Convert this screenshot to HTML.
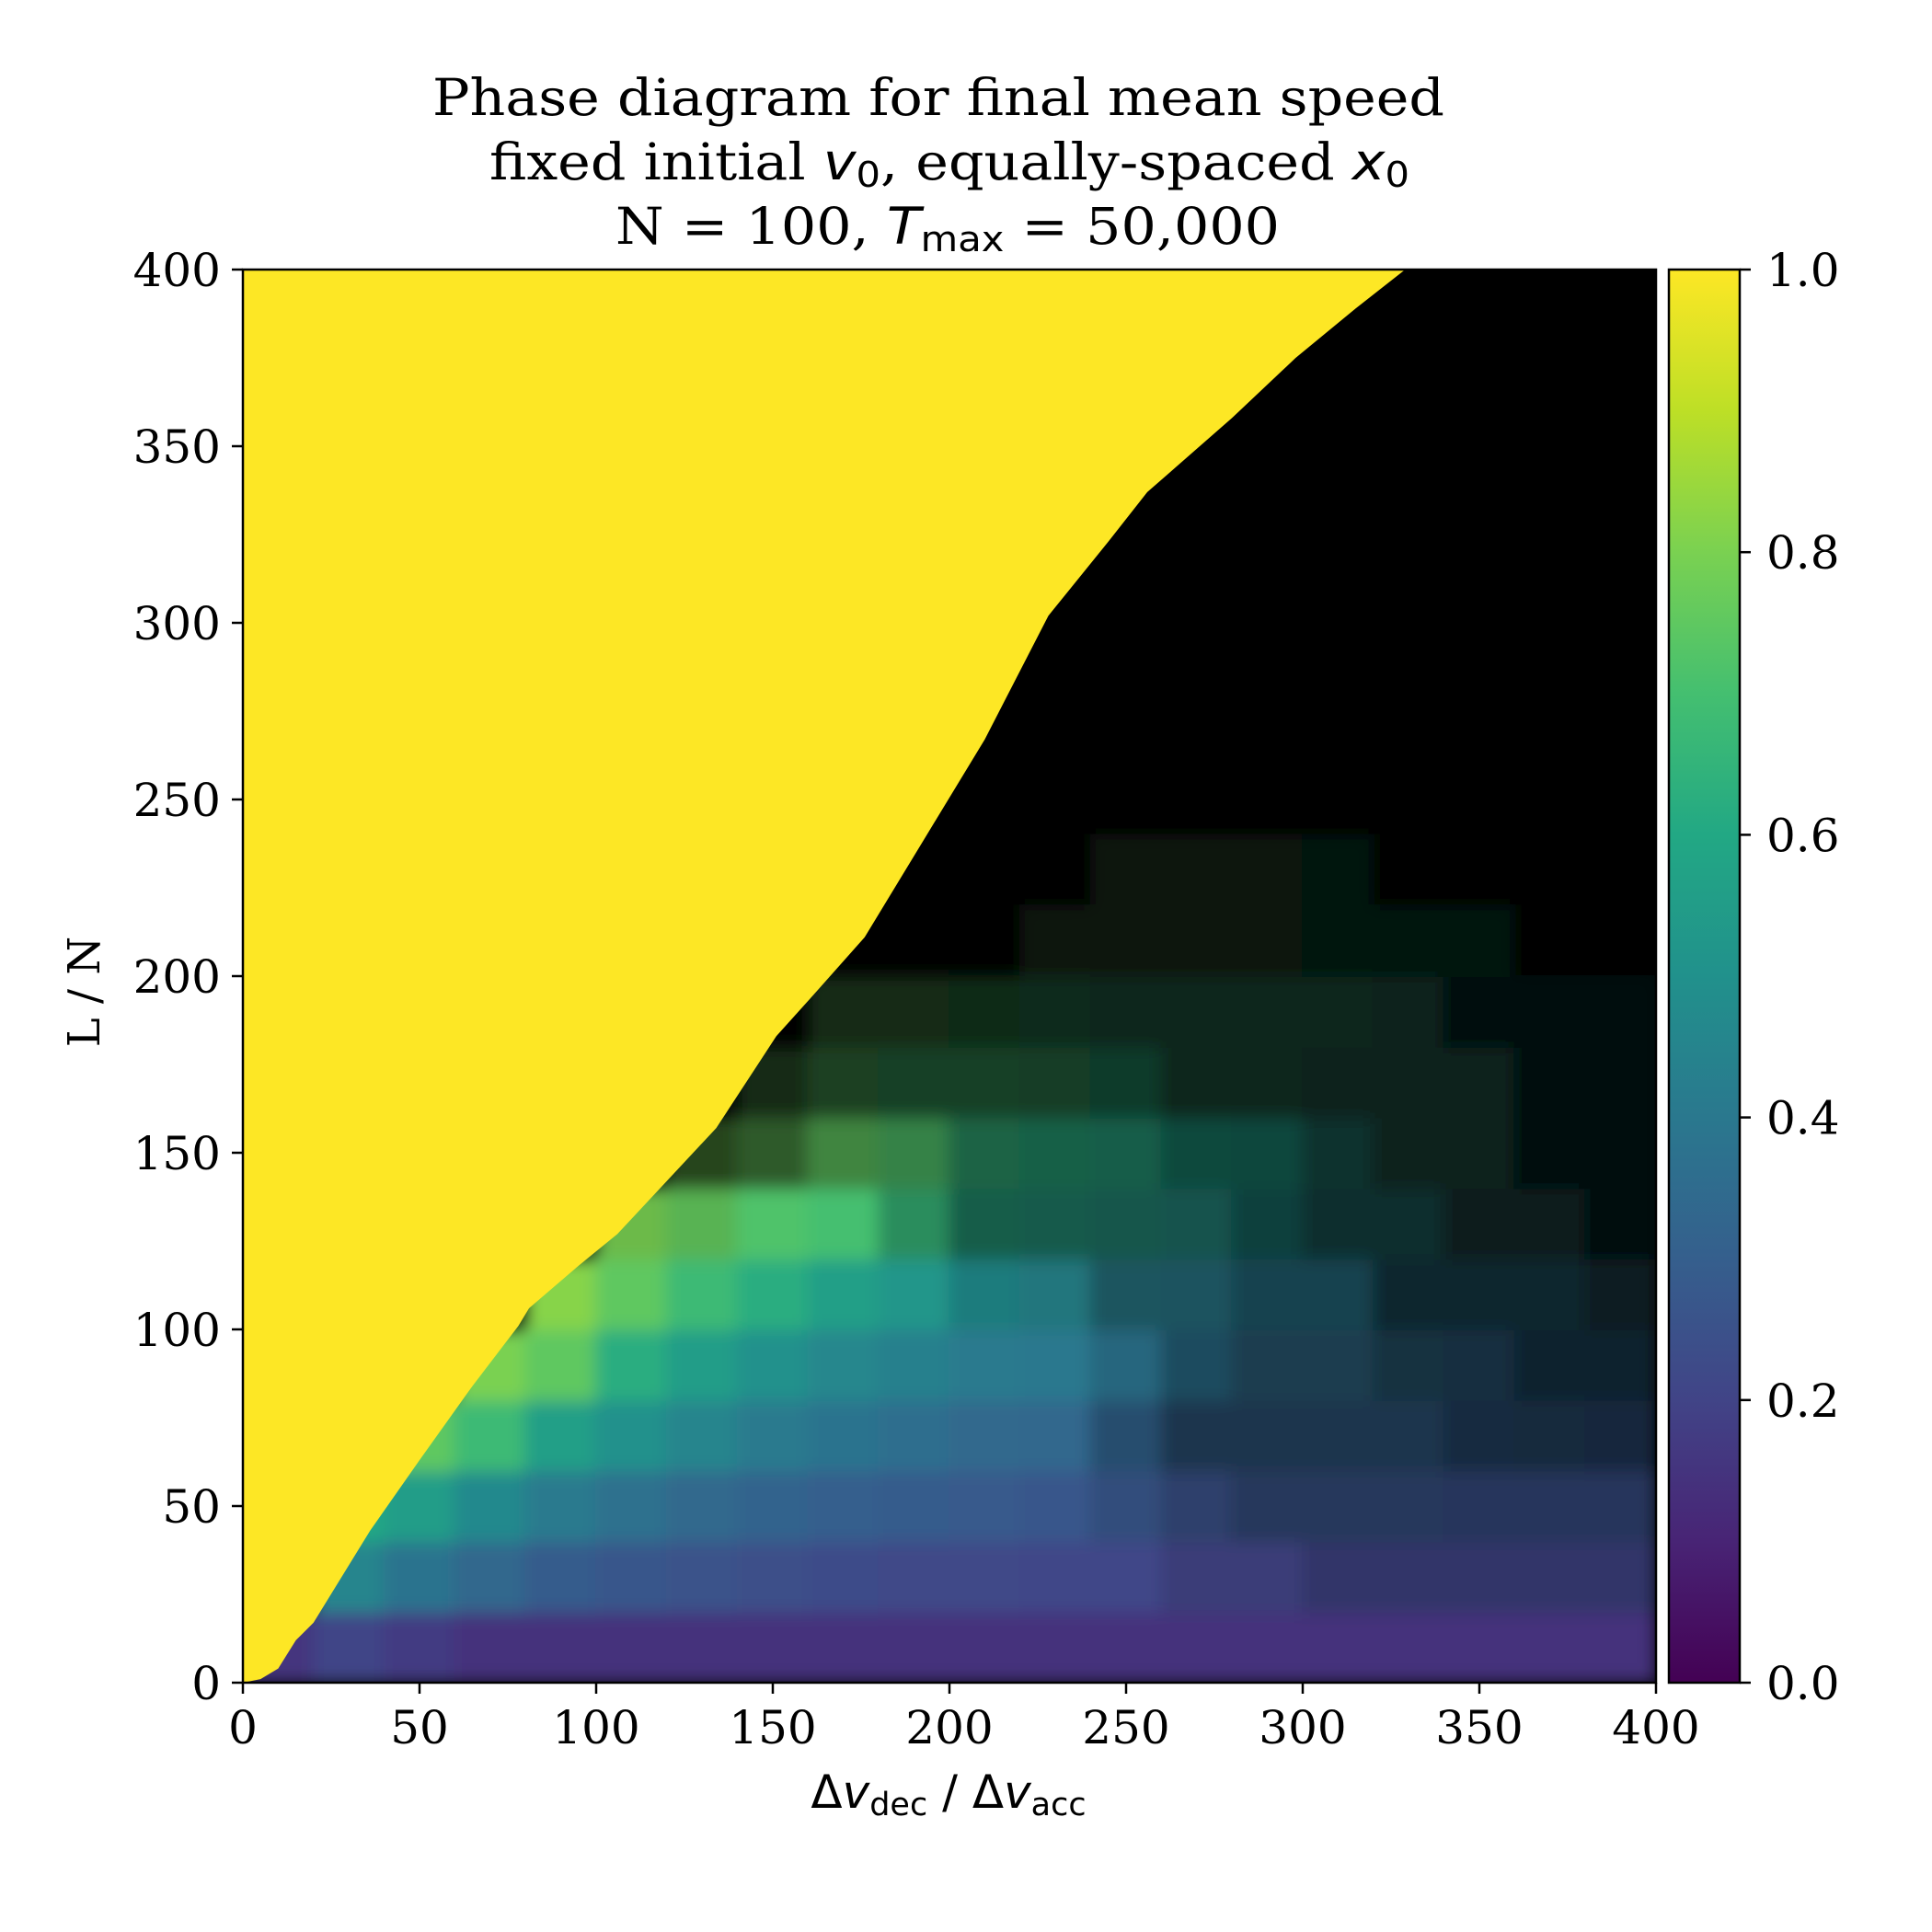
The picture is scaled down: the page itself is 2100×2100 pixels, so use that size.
<!DOCTYPE html>
<html><head><meta charset="utf-8"><style>
html,body{margin:0;padding:0;background:#fff;}
svg{display:block;}
.serif{font-family:"DejaVu Serif","Liberation Serif",serif;}
.sans{font-family:"DejaVu Sans","Liberation Sans",sans-serif;}
</style></head><body>
<svg id="chart" xmlns="http://www.w3.org/2000/svg" width="2100" height="2100" viewBox="0 0 2100 2100">
<rect x="0" y="0" width="2100" height="2100" fill="#fff"/>
<defs>
<clipPath id="plotclip"><rect x="264" y="293" width="1536" height="1536"/></clipPath>
<filter id="soft" x="-5%" y="-5%" width="110%" height="110%"><feGaussianBlur stdDeviation="9"/></filter>
<linearGradient id="cbgrad" x1="0" y1="1" x2="0" y2="0">
<stop offset="0" stop-color="#440154"/><stop offset="0.1" stop-color="#482475"/><stop offset="0.2" stop-color="#414487"/><stop offset="0.3" stop-color="#355f8d"/><stop offset="0.4" stop-color="#2a788e"/><stop offset="0.5" stop-color="#21918c"/><stop offset="0.6" stop-color="#22a884"/><stop offset="0.7" stop-color="#44bf70"/><stop offset="0.8" stop-color="#7ad151"/><stop offset="0.9" stop-color="#bddf26"/><stop offset="1" stop-color="#fde725"/>
</linearGradient>
</defs>
<g class="serif" font-size="55" text-anchor="middle" fill="#000">
<text x="1020" y="125" textLength="1100" lengthAdjust="spacingAndGlyphs">Phase diagram for final mean speed</text>
<text x="1032" y="195" textLength="1000" lengthAdjust="spacingAndGlyphs">fixed initial <tspan class="sans" font-style="italic">v</tspan><tspan class="sans" font-size="38" dy="8">0</tspan><tspan dy="-8">, equally-spaced </tspan><tspan class="sans" font-style="italic">x</tspan><tspan class="sans" font-size="38" dy="8">0</tspan></text>
<text x="1030" y="265" textLength="722" lengthAdjust="spacingAndGlyphs">N = 100, <tspan class="sans" font-style="italic">T</tspan><tspan class="sans" font-size="38" dy="8">max</tspan><tspan dy="-8"> = 50,000</tspan></text>
</g>
<rect x="264" y="293" width="1536" height="1536" fill="#000"/>
<g id="cells" clip-path="url(#plotclip)"><g id="cellsInner" filter="url(#soft)"></g></g>
<g clip-path="url(#plotclip)"><polygon id="yellow" fill="#fde725"/></g>
<rect x="264" y="293" width="1536" height="1536" fill="none" stroke="#000" stroke-width="2.5"/>
<g id="xticks"></g>
<g id="yticks"></g>
<text class="sans" x="1031" y="1965" font-size="50" text-anchor="middle">Δ<tspan font-style="italic">v</tspan><tspan font-size="35" dy="8">dec</tspan><tspan dy="-8"> / Δ</tspan><tspan font-style="italic">v</tspan><tspan font-size="35" dy="8">acc</tspan></text>
<text class="serif" x="0" y="0" font-size="48" text-anchor="middle" transform="translate(108,1078) rotate(-90)">L / N</text>
<rect x="1814" y="293" width="77" height="1536" fill="url(#cbgrad)" stroke="#000" stroke-width="2.5"/>
<g id="cbticks"></g>
</svg>
<script>
const xTicks=[0,50,100,150,200,250,300,350,400];
const yTicks=[0,50,100,150,200,250,300,350,400];
const cbTicks=[0,0.2,0.4,0.6,0.8,1.0];
const cbTickLabels=["0.0","0.2","0.4","0.6","0.8","1.0"];
// yellow / black boundary of the fully-free phase
const boundaryX=[0,5,10,15,20,36,50,65,78,81,95,106,120,134,151,160,176,193,210,228,245,256,280,298,315,329];
const boundaryL=[0,1,4,12,17,43,63,84,101,106,118,127,142,157,183,193,211,239,267,302,323,337,358,375,389,400];
// coarse grid: columns x = 0..400 step 20, rows L from 0 upwards step 20
const cellSize=20;
const rowDensity=[
"99999999999999999999",
"09999999999998877777",
"09999999999987666666",
"00999999999975555444",
"00099999999986554433",
"00009999998866553332",
"00000889975555433221",
"00000034665554432211",
"00000002333332222211",
"00000000222222222111",
"00000000000111111100",
"00000000000011110000",
"00000000000000000000"];
const rowValue=[
[0.15,0.2,0.17,0.14,0.14,0.14,0.14,0.14,0.14,0.14,0.14,0.14,0.14,0.14,0.14,0.14,0.14,0.14,0.14,0.14],
[0.45,0.45,0.38,0.33,0.29,0.27,0.25,0.24,0.23,0.22,0.22,0.21,0.21,0.2,0.2,0.2,0.2,0.2,0.2,0.2],
[0.6,0.6,0.55,0.47,0.41,0.37,0.34,0.32,0.3,0.29,0.28,0.27,0.27,0.26,0.26,0.26,0.26,0.25,0.25,0.25],
[0.75,0.75,0.75,0.68,0.56,0.5,0.45,0.41,0.38,0.36,0.34,0.33,0.32,0.31,0.3,0.3,0.3,0.3,0.29,0.28],
[0.8,0.8,0.8,0.8,0.75,0.62,0.55,0.5,0.46,0.43,0.41,0.4,0.38,0.37,0.36,0.35,0.35,0.34,0.34,0.34],
[0.82,0.82,0.82,0.82,0.82,0.75,0.68,0.62,0.56,0.52,0.48,0.45,0.43,0.42,0.4,0.4,0.4,0.38,0.38,0.38],
[0.8,0.8,0.8,0.8,0.8,0.8,0.76,0.72,0.7,0.66,0.6,0.57,0.55,0.52,0.5,0.48,0.46,0.45,0.44,0.44],
[0.78,0.78,0.78,0.78,0.78,0.78,0.78,0.76,0.75,0.72,0.65,0.62,0.6,0.57,0.55,0.52,0.5,0.5,0.5,0.5],
[0.75,0.75,0.75,0.75,0.75,0.75,0.75,0.75,0.72,0.7,0.69,0.68,0.62,0.62,0.62,0.58,0.58,0.58,0.55,0.55],
[0.72,0.72,0.72,0.72,0.72,0.72,0.72,0.72,0.72,0.72,0.7,0.68,0.66,0.64,0.62,0.6,0.56,0.55,0.55,0.55],
[0.7,0.7,0.7,0.7,0.7,0.7,0.7,0.7,0.7,0.7,0.7,0.7,0.72,0.7,0.68,0.65,0.6,0.6,0.6,0.6],
[0.7,0.7,0.7,0.7,0.7,0.7,0.7,0.7,0.7,0.7,0.7,0.7,0.7,0.7,0.68,0.65,0.6,0.6,0.6,0.6],
[0,0,0,0,0,0,0,0,0,0,0,0,0,0,0,0,0,0,0,0]];

const NS="http://www.w3.org/2000/svg";
const X0=264,Y0=1829,W=1536,H=1536;
function sx(v){return X0+v*W/400;}
function sy(v){return Y0-v*H/400;}
function cy(v){return 1829-v*1536;}
const vir=[[68,1,84],[72,36,117],[65,68,135],[53,95,141],[42,120,142],[33,145,140],[34,168,132],[68,191,112],[122,209,81],[189,223,38],[253,231,37]];
function viridis(v,k){v=Math.max(0,Math.min(1,v));const t=v*10,i=Math.min(9,Math.floor(t)),f=t-i;
 const c=vir[i].map((a,j)=>Math.round((a+(vir[i+1][j]-a)*f)*k));return `rgb(${c[0]},${c[1]},${c[2]})`;}
function el(tag,attrs,parent){const e=document.createElementNS(NS,tag);for(const k in attrs)e.setAttribute(k,attrs[k]);parent.appendChild(e);return e;}

const cellG=document.getElementById('cellsInner');
for(let r=0;r<rowDensity.length;r++){
 for(let c=0;c<20;c++){
  const d=parseInt(rowDensity[r][c])/9;
  if(d<=0)continue;
  const x0=c*cellSize,l0=r*cellSize;
  const rc=el('rect',{x:sx(x0)-1,y:sy(l0+cellSize)-1,width:sx(x0+cellSize)-sx(x0)+2,height:sy(l0)-sy(l0+cellSize)+2,fill:viridis(rowValue[r][c],d)},cellG);
  
  
 }
}
let pts=[];
for(let i=0;i<boundaryX.length;i++)pts.push(sx(boundaryX[i])+','+sy(boundaryL[i]));
pts.push(sx(0)+','+sy(400));
document.getElementById('yellow').setAttribute('points',pts.join(' '));

const xg=document.getElementById('xticks');
xTicks.forEach(v=>{
 const t=el('line',{x1:sx(v),x2:sx(v),y1:Y0,y2:Y0+12,stroke:'#000','stroke-width':2.5},xg);
 
 
 const tx=el('text',{x:sx(v),y:1895,'font-size':50,'text-anchor':'middle',class:'serif'},xg);
 tx.textContent=v;
 
 
});
const yg=document.getElementById('yticks');
yTicks.forEach(v=>{
 const t=el('line',{x1:X0-12,x2:X0,y1:sy(v),y2:sy(v),stroke:'#000','stroke-width':2.5},yg);
 
 
 const tx=el('text',{x:240,y:sy(v)+18,'font-size':50,'text-anchor':'end',class:'serif'},yg);
 tx.textContent=v;
 
 
});
const cg=document.getElementById('cbticks');
cbTicks.forEach((v,i)=>{
 const t=el('line',{x1:1891,x2:1903,y1:cy(v),y2:cy(v),stroke:'#000','stroke-width':2.5},cg);
 
 
 const tx=el('text',{x:1920,y:cy(v)+18,'font-size':50,class:'serif'},cg);
 tx.textContent=cbTickLabels[i];
 
 
});
</script>
</body></html>
